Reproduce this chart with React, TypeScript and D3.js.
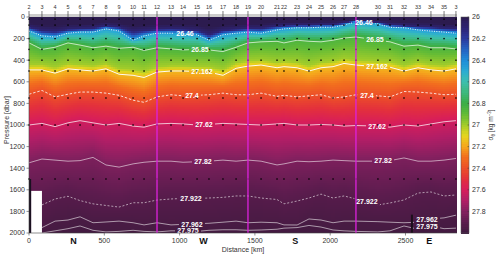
import React, { useMemo } from 'react';
import * as d3 from 'd3';

// station names along the top and their along-section distance (km)
const stationIds = ['2', '3', '4', '5', '6', '7', '8', '9', '10', '11', '12', '13', '14', '15', '16', '17', '18', '19', '20', '21', '22', '23', '24', '25', '26', '27', '28', '30', '31', '32', '33', '34', '35', '3'];
const stationKm = [0, 86, 173, 259, 339, 425, 511, 598, 691, 764, 850, 943, 1023, 1116, 1195, 1288, 1375, 1454, 1541, 1647, 1693, 1780, 1859, 1939, 2019, 2092, 2171, 2317, 2397, 2490, 2583, 2669, 2756, 2835];

// pressure (dbar) of each isopycnal at each station
const sig261 = [95, 125, 135, 115, 110, 105, 80, 95, 135, 125, 115, 110, 115, 125, 165, 125, 115, 105, 105, 85, 80, 75, 75, 70, 70, 55, 30, 50, 70, 80, 90, 95, 105, 110];
const sig2646 = [130, 175, 185, 150, 140, 140, 110, 130, 215, 175, 150, 150, 155, 165, 215, 165, 150, 140, 150, 120, 110, 100, 100, 95, 95, 75, 45, 65, 95, 100, 120, 130, 140, 150];
const sig2685 = [240, 300, 280, 240, 260, 285, 270, 290, 280, 310, 285, 295, 305, 300, 305, 320, 280, 240, 230, 225, 240, 215, 225, 230, 215, 195, 185, 215, 230, 270, 260, 285, 285, 295];
const sig270 = [440, 440, 465, 430, 440, 450, 430, 475, 485, 500, 460, 450, 450, 455, 460, 485, 425, 405, 400, 420, 410, 420, 450, 420, 410, 385, 400, 410, 415, 450, 420, 440, 450, 430];
const sig27162 = [490, 490, 520, 480, 490, 500, 480, 530, 540, 560, 510, 500, 500, 505, 510, 540, 475, 455, 445, 470, 460, 470, 500, 470, 460, 430, 445, 460, 465, 500, 470, 490, 500, 480];
const sig274 = [715, 680, 740, 715, 695, 695, 705, 725, 770, 790, 740, 720, 730, 725, 720, 705, 720, 720, 705, 735, 725, 740, 730, 720, 750, 740, 720, 730, 740, 690, 695, 705, 720, 715];
const sig2762 = [1000, 985, 1015, 980, 960, 980, 1000, 985, 1010, 1020, 990, 985, 990, 1000, 995, 985, 990, 995, 1000, 990, 985, 1000, 1000, 995, 1000, 1010, 1005, 1010, 1020, 1000, 1010, 990, 970, 960];
const sig2782 = [1350, 1315, 1325, 1335, 1330, 1300, 1370, 1390, 1360, 1345, 1335, 1335, 1345, 1340, 1335, 1325, 1335, 1325, 1335, 1370, 1360, 1335, 1340, 1335, 1325, 1330, 1335, 1335, 1330, 1305, 1335, 1335, 1325, 1310];
const sig27922 = [1720, 1740, 1685, 1660, 1700, 1730, 1745, 1760, 1720, 1720, 1695, 1685, 1680, 1680, 1676, 1670, 1657, 1657, 1676, 1690, 1730, 1704, 1676, 1640, 1676, 1657, 1685, 1740, 1722, 1694, 1630, 1620, 1657, 1648];
const sig27962 = [1900, 1950, 1890, 1880, 1850, 1905, 1898, 1890, 1905, 1925, 1905, 1925, 1920, 1915, 1910, 1900, 1890, 1905, 1900, 1905, 1925, 1926, 1870, 1880, 1905, 1890, 1890, 1895, 1900, 1905, 1900, 1870, 1860, 1835];
const sig27975 = [1990, 2000, 1980, 1960, 1935, 1975, 1990, 1985, 1975, 1985, 1990, 1980, 1980, 1985, 1975, 1970, 1970, 1975, 1972, 1965, 1955, 1950, 1930, 1945, 1972, 1980, 1985, 1990, 1980, 1935, 1965, 1935, 1960, 1955];

const surfaceSigma = 25.85;
const bottomSigma = 27.985;

// bottle sample depths, label positions, section markers
const sampleDbar = [20, 75, 200, 300, 400, 500, 750, 1000, 1500];
const labelKmLeft = [1036, 1135, 1149, 1082, 1162, 1155, 1076, 1082, 1056];
const labelKmRight = [2224, 2297, 2311, 2244, 2311, 2351, 2244, 2643, 2643];
const magentaStations = ['12', '19', '28'];
const regionNames = ['N', 'W', 'S', 'E'];
const regionKm = [295, 1158, 1768, 2658];
const distTicks = [0, 500, 1000, 1500, 2000, 2500];
const presTicks = [0, 200, 400, 600, 800, 1000, 1200, 1400, 1600, 1800, 2000];
const cbTicks = [26, 26.2, 26.4, 26.6, 26.8, 27, 27.2, 27.4, 27.6, 27.8];
const station2Bottom = 1610;

const cmapSigma = [26.0, 26.1, 26.2, 26.3, 26.4, 26.5, 26.6, 26.7, 26.8, 26.9, 27.0, 27.1, 27.2, 27.3, 27.4, 27.5, 27.6, 27.7, 27.8, 27.9, 28.0];
const cmapColors = ['#2c1b4f', '#2d2373', '#2b3a9e', '#2562c2', '#1f8bd8', '#2aabd4', '#3cbfae', '#3db87c', '#3aae48', '#62bb36', '#a2cc2a', '#e6d61e', '#f5a61d', '#f26e1e', '#ec4f28', '#e3303c', '#d71d5b', '#b01e66', '#84205f', '#5c1c4e', '#3e1a3e'];

const FONT = '"Liberation Sans", Arial, sans-serif';

const levels = [
  { sigma: 26.46, text: '26.46', depths: sig2646, dash: '1,1.4', w: 1, op: 0.95 },
  { sigma: 26.85, text: '26.85', depths: sig2685, dash: null, w: 0.8, op: 0.85 },
  { sigma: 27.162, text: '27.162', depths: sig27162, dash: null, w: 1, op: 0.95 },
  { sigma: 27.4, text: '27.4', depths: sig274, dash: '2.5,1.8', w: 0.9, op: 0.9 },
  { sigma: 27.62, text: '27.62', depths: sig2762, dash: null, w: 0.9, op: 0.8 },
  { sigma: 27.82, text: '27.82', depths: sig2782, dash: null, w: 0.8, op: 0.7 },
  { sigma: 27.922, text: '27.922', depths: sig27922, dash: '2,1.8', w: 0.8, op: 0.7 },
  { sigma: 27.962, text: '27.962', depths: sig27962, dash: null, w: 0.8, op: 0.7 },
  { sigma: 27.975, text: '27.975', depths: sig27975, dash: null, w: 0.8, op: 0.7 },
];
// field is built from the drawn isopycnals plus two unlabelled ones
const fieldLevels = [{ sigma: 26.1, depths: sig261 }, ...levels.slice(0, 2), { sigma: 27.0, depths: sig270 }, ...levels.slice(2)];

export default function App() {
  const width = 500;
  const height = 257;
  const x = d3.scaleLinear().domain([0, 2842]).range([29, 457]);
  const y = d3.scaleLinear().domain([0, 2000]).range([17, 233]);
  const cb = d3.scaleLinear().domain([26, 28]).range([17, 233]);
  const color = d3.scaleLinear<string>().domain(cmapSigma).range(cmapColors).interpolate(d3.interpolateRgb).clamp(true);

  const interpDepth = (depths: number[], km: number) => {
    const n = stationKm.length;
    const i = Math.max(0, Math.min(n - 2, d3.bisectRight(stationKm, km) - 1));
    const t = Math.max(0, Math.min(1, (km - stationKm[i]) / (stationKm[i + 1] - stationKm[i])));
    return depths[i] * (1 - t) + depths[i + 1] * t;
  };

  const cells = useMemo(() => {
    const out: { x: number; y: number; c: string }[] = [];
    const step = 2;
    for (let px = 29; px < 457; px += step) {
      const km = x.invert(px + step / 2);
      const ps = [0];
      const ss = [surfaceSigma];
      fieldLevels.forEach((l) => {
        const d = Math.max(interpDepth(l.depths, km), ps[ps.length - 1] + 1);
        ps.push(d);
        ss.push(l.sigma);
      });
      ps.push(Math.max(2000, ps[ps.length - 1] + 1));
      ss.push(bottomSigma);
      const prof = d3.scaleLinear().domain(ps).range(ss).clamp(true);
      for (let py = 17; py < 233; py += step) {
        out.push({ x: px, y: py, c: color(prof(y.invert(py + step / 2))) });
      }
    }
    return out;
  }, []);

  const line = (depths: number[]) =>
    d3
      .line<number>()
      .defined((d, i) => !(i === 0 && d > station2Bottom))
      .x((_, i) => x(stationKm[i]))
      .y((d) => y(Math.min(d, 2000)))(depths) || '';

  const labels = levels.flatMap((l, k) =>
    [labelKmLeft[k], labelKmRight[k]].map((km) => ({
      text: l.text,
      cx: x(km),
      cy: Math.min(y(interpDepth(l.depths, km)), 230.5),
    }))
  );

  const cbSteps = d3.range(26, 28, 0.02);

  return (
    <svg width={width} height={height} style={{ position: 'absolute', left: 0, top: 0, background: '#fff' }} fontFamily={FONT}>
      <defs>
        <clipPath id="plotclip">
          <rect x={29} y={17} width={428} height={216} />
        </clipPath>
        <mask id="lblmask">
          <rect x={0} y={0} width={width} height={height} fill="#fff" />
          {labels.map((l, i) => (
            <rect key={i} x={l.cx - l.text.length * 2 - 1} y={l.cy - 3.5} width={l.text.length * 4 + 2} height={7} fill="#000" />
          ))}
        </mask>
      </defs>

      {/* density field */}
      <g shapeRendering="crispEdges">
        {cells.map((c, i) => (
          <rect key={i} x={c.x} y={c.y} width={2} height={2} fill={c.c} />
        ))}
      </g>

      {/* isopycnals */}
      <g clipPath="url(#plotclip)">
        <g mask="url(#lblmask)" fill="none">
          {levels.map((l) => (
            <path key={l.text} d={line(l.depths)} stroke="#fff" strokeOpacity={l.op} strokeWidth={l.w} strokeDasharray={l.dash || undefined} />
          ))}
        </g>
      </g>

      {/* bottle samples */}
      <g fill="#000">
        {stationKm.flatMap((km, i) =>
          sampleDbar
            .filter((p) => !(i === 0 && p > station2Bottom))
            .map((p) => <rect key={`${i}-${p}`} x={x(km) - 0.7} y={y(p) - 0.7} width={1.4} height={1.4} />)
        )}
      </g>

      {/* no-data region below station 2 */}
      <rect x={x(14)} y={y(station2Bottom)} width={x(86) - x(14)} height={y(2000) - y(station2Bottom)} fill="#fff" />
      <rect x={x(0)} y={y(1500)} width={x(14) - x(0)} height={y(2000) - y(1500)} fill="#1a1020" />
      <rect x={x(2536)} y={y(1830)} width={2} height={y(2000) - y(1830)} fill="#1c0f1c" />

      {/* section dividers */}
      {magentaStations.map((s) => {
        const km = stationKm[stationIds.indexOf(s)];
        return <line key={s} x1={x(km)} x2={x(km)} y1={17} y2={233} stroke="#dd22dd" strokeWidth={1.3} />;
      })}

      {/* contour labels */}
      <g fill="#fff" fontSize={7} fontWeight="bold" textAnchor="middle">
        {labels.map((l, i) => (
          <text key={i} x={l.cx} y={l.cy + 2.5}>
            {l.text}
          </text>
        ))}
      </g>

      {/* top band with stations */}
      <rect x={29} y={14} width={428} height={3} fill="#cdcdcd" />
      <g fontSize={5.5} fill="#333" textAnchor="middle">
        {stationIds.map((s, i) => (
          <g key={i}>
            <text x={x(stationKm[i])} y={9}>
              {s}
            </text>
            <line x1={x(stationKm[i])} x2={x(stationKm[i])} y1={11} y2={17} stroke="#222" strokeWidth={0.6} />
          </g>
        ))}
      </g>

      {/* axes */}
      <g fontSize={7} fill="#333">
        {presTicks.map((p) => (
          <g key={p}>
            <line x1={26.5} x2={29} y1={y(p)} y2={y(p)} stroke="#444" strokeWidth={0.6} />
            <text x={25} y={y(p) + 2.4} textAnchor="end">
              {p}
            </text>
          </g>
        ))}
        {distTicks.map((d) => (
          <g key={d}>
            <line x1={x(d)} x2={x(d)} y1={233} y2={235.5} stroke="#444" strokeWidth={0.6} />
            <text x={x(d)} y={243} textAnchor="middle">
              {d}
            </text>
          </g>
        ))}
        <text x={243} y={252} textAnchor="middle">
          Distance [km]
        </text>
        <text transform="translate(9,120) rotate(-90)" textAnchor="middle">
          Pressure [dbar]
        </text>
      </g>
      <line x1={29} x2={29} y1={17} y2={233} stroke="#444" strokeWidth={0.6} />
      <line x1={29} x2={457} y1={233} y2={233} stroke="#444" strokeWidth={0.6} />
      <g fontSize={9} fontWeight="bold" fill="#111" textAnchor="middle">
        {regionNames.map((r, i) => (
          <text key={r} x={x(regionKm[i])} y={244}>
            {r}
          </text>
        ))}
      </g>

      {/* colorbar */}
      <g shapeRendering="crispEdges">
        {cbSteps.map((s, i) => (
          <rect key={i} x={461} y={cb(s)} width={8} height={cb(s + 0.02) - cb(s) + 0.5} fill={color(s + 0.01)} />
        ))}
      </g>
      <rect x={461} y={17} width={8} height={216} fill="none" stroke="#555" strokeWidth={0.5} />
      <g fontSize={7} fill="#333">
        {cbTicks.map((t) => (
          <g key={t}>
            <line x1={469} x2={467.5} y1={cb(t)} y2={cb(t)} stroke="#333" strokeWidth={0.5} />
            <text x={472} y={cb(t) + 2.4}>
              {d3.format('~g')(t)}
            </text>
          </g>
        ))}
      </g>
      <text transform="translate(493,125) rotate(-90)" textAnchor="middle" fontSize={6.5} fill="#333">
        σ<tspan fontSize={4.5} dy={1.5}>θ</tspan>
        <tspan dy={-1.5}> [kg m</tspan>
        <tspan fontSize={4.5} dy={-2}>−3</tspan>
        <tspan dy={2}>]</tspan>
      </text>
    </svg>
  );
}
